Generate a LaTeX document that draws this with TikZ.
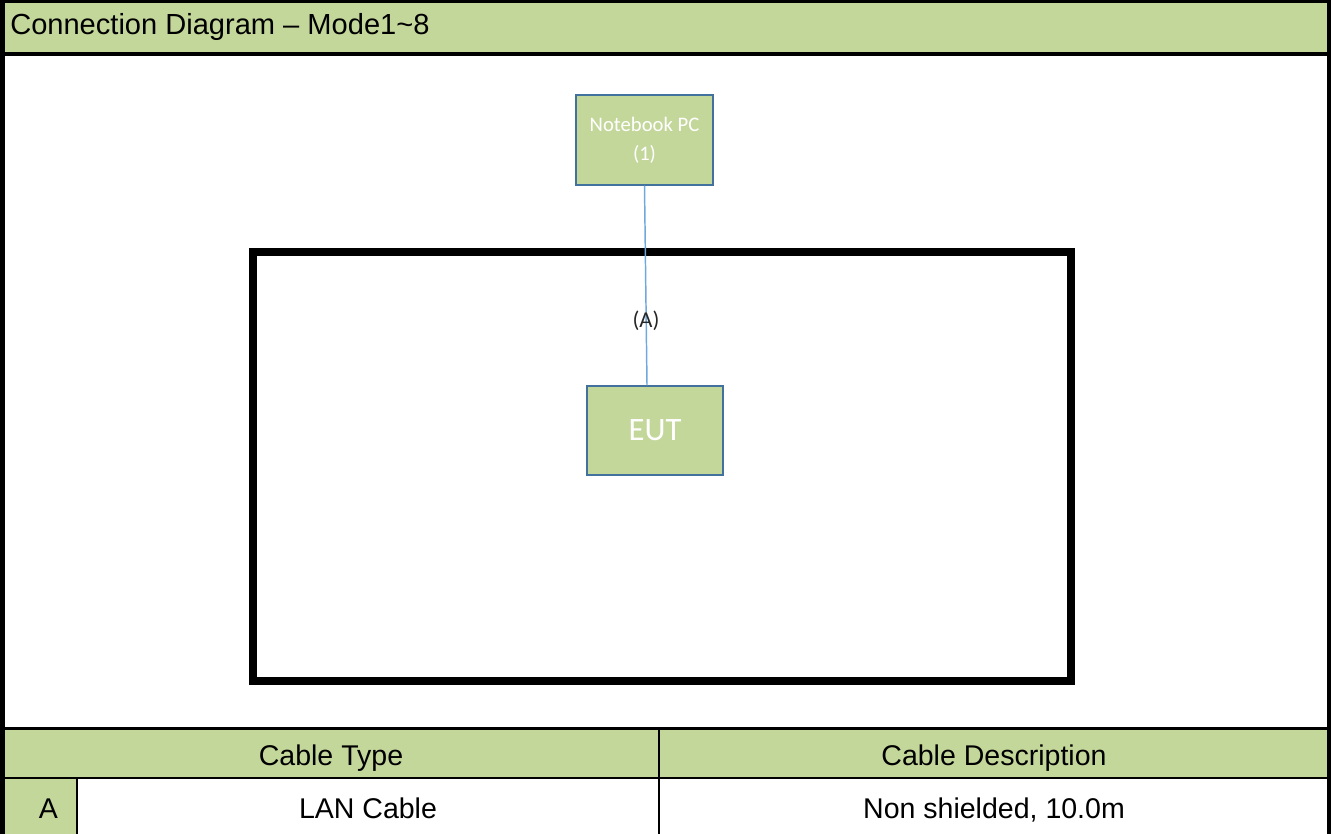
\documentclass[tikz,border=0pt]{standalone}
\usepackage{fontspec}
\setmainfont{Liberation Sans}
\newfontfamily\calfont{Carlito}
\definecolor{hdrgreen}{HTML}{C4D79B}
\definecolor{boxline}{HTML}{41719C}
\definecolor{cablecol}{HTML}{6FA8DC}
\definecolor{lbl}{HTML}{262626}
\begin{document}
\begin{tikzpicture}[x=0.75pt,y=-0.75pt,
  tblline/.style={black,line width=1.8pt},
  frameline/.style={black,line width=3pt},
  tbltext/.style={font=\fontsize{21.4}{25}\selectfont,inner sep=0pt,anchor=base},
  devbox/.style={draw=boxline,line width=1.1pt,fill=hdrgreen,inner sep=0pt,text=white,align=center},
  cable/.style={draw=cablecol,line width=1.1pt}]
\useasboundingbox (0,0) rectangle (1333,834);
% fills
\fill[hdrgreen] (0,0) rectangle (1329,54.5);
\fill[hdrgreen] (3,728.5) rectangle (1329,778);
\fill[hdrgreen] (3,778) rectangle (77,834);
% frame lines
\draw[frameline] (0,1.5) -- (1331,1.5);
\draw[frameline] (2.5,0) -- (2.5,834);
\draw[frameline] (1329,0) -- (1329,834);
\draw[frameline] (0,54.5) -- (1331,54.5);
% table lines
\draw[tblline] (0,728.5) -- (1331,728.5);
\draw[tblline] (0,778) -- (1331,778);
\draw[tblline] (659,728.5) -- (659,834);
\draw[tblline] (77,778) -- (77,834);
% title
\node[font=\fontsize{21.8}{25}\selectfont,inner sep=0pt,anchor=base west] (title) at (10,35) {Connection Diagram -- Mode1\char"007E 8};
% table texts
\node[tbltext] (ct) at (331,765) {Cable Type};
\node[tbltext] (cd) at (994,765) {Cable Description};
\node[tbltext] (ca) at (48.5,818) {A};
\node[tbltext] (lan) at (368,818) {LAN Cable};
\node[tbltext] (desc) at (994,818) {Non shielded, 10.0m};
% test room frame
\draw[black,line width=6pt] (253,252) rectangle (1070.5,681);
% devices
\node[devbox,minimum width=102.75pt,minimum height=67.5pt,
      font=\calfont\fontsize{15.5}{21.75}\selectfont] (nb) at (644.5,140) {Notebook PC\\(1)};
\node[devbox,minimum width=102pt,minimum height=66.75pt,
      font=\calfont\fontsize{24.5}{28}\selectfont] (eut) at (655,430.5) {EUT};
\coordinate (eutin) at ([xshift=-6pt]eut.north);
\draw[cable] (nb.south) -- (eutin);
\node[font=\calfont\fontsize{17}{20}\selectfont,text=lbl,inner sep=0pt] (la) at (646,321) {(A)};
\end{tikzpicture}
\end{document}
